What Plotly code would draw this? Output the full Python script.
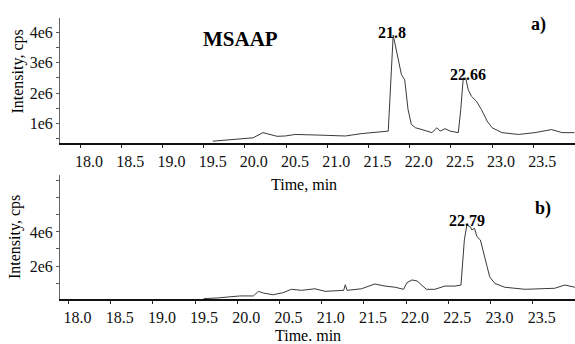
import plotly.graph_objects as go

# ---- data ----
time_a = [19.61, 19.88, 20.10, 20.22, 20.39, 20.49, 20.61, 20.89, 21.22, 21.42, 21.62, 21.74,
          21.80, 21.84, 21.87, 21.90, 21.94, 21.97, 21.98, 22.02, 22.07, 22.15, 22.27, 22.33,
          22.37, 22.43, 22.49, 22.59, 22.62, 22.65, 22.68, 22.71, 22.75, 22.81, 22.87, 22.94,
          23.00, 23.12, 23.32, 23.52, 23.72, 23.85, 24.00]
int_a = [0.42, 0.47, 0.53, 0.70, 0.58, 0.59, 0.64, 0.62, 0.59, 0.67, 0.72, 0.75,
         3.90, 3.41, 2.98, 2.60, 2.43, 1.78, 1.46, 0.97, 0.86, 0.80, 0.70, 0.86,
         0.75, 0.83, 0.75, 0.70, 1.46, 2.49, 2.49, 2.11, 1.89, 1.73, 1.46, 1.08,
         0.86, 0.70, 0.64, 0.70, 0.80, 0.70, 0.70]  # x 1e6

time_b = [19.60, 19.76, 20.03, 20.19, 20.25, 20.31, 20.42, 20.54, 20.64, 20.76, 20.92, 21.04,
          21.26, 21.28, 21.30, 21.47, 21.63, 21.75, 21.87, 21.97, 22.01, 22.07, 22.13, 22.19,
          22.24, 22.34, 22.46, 22.58, 22.65, 22.69, 22.72, 22.76, 22.78, 22.81, 22.84, 22.88,
          22.92, 22.96, 22.99, 23.05, 23.17, 23.41, 23.76, 23.88, 24.00]
int_b = [0.08, 0.12, 0.24, 0.24, 0.51, 0.41, 0.31, 0.43, 0.63, 0.57, 0.66, 0.51,
         0.57, 0.90, 0.57, 0.66, 0.94, 0.82, 0.75, 0.63, 1.02, 1.18, 1.12, 0.88,
         0.63, 0.63, 0.82, 0.82, 0.88, 3.53, 4.41, 4.31, 4.12, 4.22, 3.72, 3.53,
         2.65, 1.96, 1.37, 0.98, 0.75, 0.63, 0.69, 0.88, 0.75]  # x 1e6

x_ticks = [18.0, 18.5, 19.0, 19.5, 20.0, 20.5, 21.0, 21.5, 22.0, 22.5, 23.0, 23.5]
ya_ticks = [0.5, 1, 1.5, 2, 2.5, 3, 3.5, 4]
ya_text = ["", "1e6", "", "2e6", "", "3e6", "", "4e6"]
yb_ticks = [1, 2, 3, 4, 5, 6, 7]
yb_text = ["", "2e6", "", "4e6", "", "", ""]

peaks = [("21.8", "a", 21.80, 3.90, -1.5, 4), ("22.66", "a", 22.67, 2.49, 3, 5),
         ("22.79", "b", 22.72, 4.41, 0, 6)]

SERIF = "Times New Roman, Liberation Serif, DejaVu Serif, serif"
W, H = 575, 344
ML, MR, MT, MB = 60, 0, 18, 45
PW, PH = W - ML - MR, H - MT - MB


def paper(px, py):
    return (px - ML) / PW, (H - MB - py) / PH


fig = go.Figure()
fig.add_trace(go.Scatter(x=time_a, y=[v * 1e6 for v in int_a], mode="lines",
                         line=dict(color="#3a3a3a", width=1), xaxis="x", yaxis="y",
                         showlegend=False))
fig.add_trace(go.Scatter(x=time_b, y=[v * 1e6 for v in int_b], mode="lines",
                         line=dict(color="#3a3a3a", width=1), xaxis="x2", yaxis="y2",
                         showlegend=False))

xcommon = dict(tickvals=x_ticks, ticktext=[f"{t:.1f}" for t in x_ticks], ticks="outside",
               ticklen=3, tickcolor="#222", showline=True, linecolor="#111", linewidth=1.5,
               showgrid=False, zeroline=False, ticklabelshift=9,
               tickfont=dict(family=SERIF, size=16, color="#111"))
ycommon = dict(ticks="outside", ticklen=3, tickcolor="#555", showline=True, linecolor="#666",
               linewidth=1, showgrid=False, zeroline=False,
               tickfont=dict(family=SERIF, size=16, color="#111"))

top_dom = [(H - MB - 143) / PH, (H - MB - 18) / PH]
bot_dom = [0, (H - MB - 175) / PH]

fig.update_layout(
    width=W, height=H, margin=dict(l=ML, r=MR, t=MT, b=MB),
    paper_bgcolor="white", plot_bgcolor="white",
    font=dict(family=SERIF),
    xaxis=dict(domain=[0, 1], range=[17.757, 24.006], anchor="y", **xcommon),
    yaxis=dict(domain=top_dom, range=[0.36e6, 4.46e6], anchor="x",
               tickvals=[v * 1e6 for v in ya_ticks], ticktext=ya_text, **ycommon),
    xaxis2=dict(domain=[0, 1], range=[17.899, 24.001], anchor="y2", **xcommon),
    yaxis2=dict(domain=bot_dom, range=[0.06e6, 7.35e6], anchor="x2",
                tickvals=[v * 1e6 for v in yb_ticks], ticktext=yb_text, **ycommon),
)

ann = []
for txt, p, xv, yv, dx, dy in peaks:
    ann.append(dict(text=f"<b>{txt}</b>", x=xv, y=yv * 1e6,
                    xref="x" if p == "a" else "x2", yref="y" if p == "a" else "y2",
                    showarrow=False, xanchor="center", yanchor="bottom", xshift=dx, yshift=dy - 12,
                    font=dict(family=SERIF, size=16, color="#000")))


def label(text, px, py, size=16, bold=False, angle=0):
    xp, yp = paper(px, py)
    ann.append(dict(text=f"<b>{text}</b>" if bold else text, x=xp, y=yp, xref="paper",
                    yref="paper", showarrow=False, xanchor="center", yanchor="middle",
                    textangle=angle, font=dict(family=SERIF, size=size, color="#000")))


label("Intensity, cps", 17.5, 72, angle=-90)
label("Intensity, cps", 15, 237, angle=-90)
label("Time, min", 304, 184)
label("Time. min", 308, 335)
label("MSAAP", 240, 39, size=21, bold=True)
label("a)", 538, 24, size=18, bold=True)
label("b)", 543, 209, size=18, bold=True)

fig.update_layout(annotations=ann)
fig.write_html("out.html")
